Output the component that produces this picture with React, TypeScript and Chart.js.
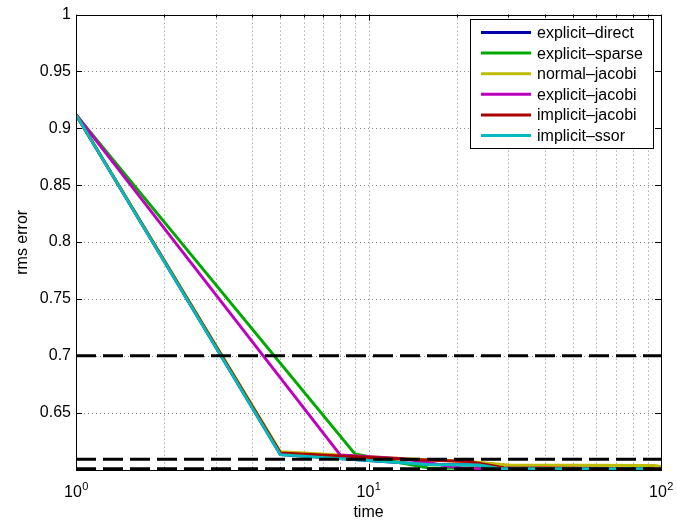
import React, { useEffect, useRef } from "react";
import { Chart, registerables } from "chart.js";

Chart.register(...registerables);

// ---- data ----
const seriesLabels = [
  "explicit–direct",
  "explicit–sparse",
  "normal–jacobi",
  "explicit–jacobi",
  "implicit–jacobi",
  "implicit–ssor",
];
const explicitDirect = [[1, 0.912], [5, 0.613], [16, 0.6043], [24, 0.604], [28, 0.6008], [88, 0.6005]];
const explicitSparse = [[1, 0.912], [9, 0.6135], [16, 0.6012], [45, 0.6005]];
const normalJacobi = [[1, 0.912], [5, 0.6155], [14, 0.6092], [22, 0.607], [30, 0.604], [95, 0.6035], [100, 0.6025]];
const explicitJacobi = [[1, 0.912], [8, 0.6128], [13, 0.6095], [16, 0.6058], [21, 0.6008], [46, 0.6005]];
const implicitJacobi = [[1, 0.912], [5, 0.6145], [14, 0.6088], [22, 0.607], [29, 0.6015], [95, 0.6005]];
const implicitSsor = [[1, 0.912], [5, 0.613], [16, 0.6043], [24, 0.604], [28, 0.6008], [88, 0.6005]];
const thresholds = [0.7, 0.609, 0.6005];
const yTickValues = [0.65, 0.7, 0.75, 0.8, 0.85, 0.9, 0.95, 1];
const xTickValues = [1, 10, 100];
const xMinorValues = [2, 3, 4, 5, 6, 7, 8, 9, 20, 30, 40, 50, 60, 70, 80, 90];

const seriesData = [explicitDirect, explicitSparse, normalJacobi, explicitJacobi, implicitJacobi, implicitSsor];
const seriesColors = ["#0000aa", "#00aa00", "#bcbc00", "#bf00bf", "#aa0000", "#00bcbc"];

const FONT = "'Liberation Sans', Arial, Helvetica, sans-serif";

const axesPlugin = {
  id: "matlabAxes",
  beforeDatasetsDraw(chart: any) {
    const { ctx, chartArea: a, scales } = chart;
    const xs = scales.x, ys = scales.y;
    ctx.save();
    ctx.strokeStyle = "#8a8a8a";
    ctx.lineWidth = 1;
    ctx.setLineDash([1, 3]);
    for (const v of [...xMinorValues, 10]) {
      const px = Math.round(xs.getPixelForValue(v)) + 0.5;
      ctx.beginPath();
      ctx.moveTo(px, a.top);
      ctx.lineTo(px, a.bottom);
      ctx.stroke();
    }
    for (const v of yTickValues) {
      if (v >= 1) continue;
      const py = Math.round(ys.getPixelForValue(v)) + 0.5;
      ctx.beginPath();
      ctx.moveTo(a.left, py);
      ctx.lineTo(a.right, py);
      ctx.stroke();
    }
    ctx.restore();
  },
  afterDatasetsDraw(chart: any) {
    const { ctx, chartArea: a, scales } = chart;
    const xs = scales.x, ys = scales.y;
    ctx.save();
    ctx.setLineDash([]);
    ctx.strokeStyle = "#000";
    ctx.lineWidth = 1;
    ctx.strokeRect(Math.round(a.left) + 0.5, Math.round(a.top) + 0.5, Math.round(a.right - a.left), Math.round(a.bottom - a.top));
    ctx.beginPath();
    for (const v of yTickValues) {
      const py = Math.round(ys.getPixelForValue(v)) + 0.5;
      ctx.moveTo(a.left, py);
      ctx.lineTo(a.left + 6, py);
      ctx.moveTo(a.right, py);
      ctx.lineTo(a.right - 6, py);
    }
    for (const v of xTickValues) {
      const px = Math.round(xs.getPixelForValue(v)) + 0.5;
      ctx.moveTo(px, a.bottom);
      ctx.lineTo(px, a.bottom - 6);
      ctx.moveTo(px, a.top);
      ctx.lineTo(px, a.top + 6);
    }
    for (const v of xMinorValues) {
      const px = Math.round(xs.getPixelForValue(v)) + 0.5;
      ctx.moveTo(px, a.bottom);
      ctx.lineTo(px, a.bottom - 3);
      ctx.moveTo(px, a.top);
      ctx.lineTo(px, a.top + 3);
    }
    ctx.stroke();

    // x tick labels with superscript exponents
    ctx.fillStyle = "#000";
    ctx.textBaseline = "alphabetic";
    ctx.textAlign = "left";
    for (const v of xTickValues) {
      const px = xs.getPixelForValue(v);
      const exp = String(Math.round(Math.log10(v)));
      ctx.font = `16px ${FONT}`;
      const wb = ctx.measureText("10").width;
      ctx.font = `11px ${FONT}`;
      const we = ctx.measureText(exp).width;
      const start = px - (wb + we) / 2;
      ctx.font = `16px ${FONT}`;
      ctx.fillText("10", start, a.bottom + 27);
      ctx.font = `11px ${FONT}`;
      ctx.fillText(exp, start + wb + 0.5, a.bottom + 20);
    }

    // legend
    const lx = 470, ly = 19, lw = 183, lh = 129;
    ctx.fillStyle = "#fff";
    ctx.fillRect(lx, ly, lw, lh);
    ctx.strokeStyle = "#000";
    ctx.lineWidth = 1;
    ctx.strokeRect(lx + 0.5, ly + 0.5, lw, lh);
    ctx.font = `16px ${FONT}`;
    ctx.textBaseline = "middle";
    seriesLabels.forEach((label, i) => {
      const cy = 32.5 + i * 20.6;
      ctx.strokeStyle = seriesColors[i];
      ctx.lineWidth = 3;
      ctx.beginPath();
      ctx.moveTo(481, cy);
      ctx.lineTo(531, cy);
      ctx.stroke();
      ctx.fillStyle = "#000";
      ctx.fillText(label, 537, cy + 1);
    });
    ctx.restore();
  },
};

export default function App() {
  const ref = useRef<HTMLCanvasElement | null>(null);
  useEffect(() => {
    if (!ref.current) return;
    const datasets: any[] = seriesData.map((d, i) => ({
      label: seriesLabels[i],
      data: d.map(([x, y]) => ({ x, y })),
      borderColor: seriesColors[i],
      backgroundColor: seriesColors[i],
      borderWidth: 3,
      pointRadius: 0,
      tension: 0,
      fill: false,
      order: 10 - i,
    }));
    thresholds.forEach((t) => {
      datasets.push({
        label: "threshold",
        data: [{ x: 1, y: t }, { x: 100, y: t }],
        borderColor: "#000",
        borderWidth: 3,
        borderDash: [20, 7],
        pointRadius: 0,
        fill: false,
        order: 1,
      });
    });
    const chart = new Chart(ref.current, {
      type: "line",
      data: { datasets },
      plugins: [axesPlugin],
      options: {
        animation: false,
        responsive: false,
        layout: { padding: { left: 0, right: 16, top: 12, bottom: 0 } },
        plugins: { legend: { display: false }, tooltip: { enabled: false } },
        scales: {
          x: {
            type: "logarithmic",
            min: 1,
            max: 100,
            grid: { display: false, drawTicks: false },
            border: { display: false },
            ticks: { display: false },
            title: { display: true, text: "time", color: "#000", font: { family: FONT, size: 16 }, padding: { top: 0, bottom: 3 } },
            afterFit: (s: any) => { s.height = 55; },
          },
          y: {
            type: "linear",
            min: 0.5995,
            max: 1,
            grid: { display: false, drawTicks: false },
            border: { display: false },
            afterBuildTicks: (s: any) => { s.ticks = yTickValues.map((v) => ({ value: v })); },
            ticks: {
              color: "#000",
              font: { family: FONT, size: 16 },
              padding: 5,
              callback: (v: any) => String(Number(Number(v).toFixed(2))),
            },
            title: { display: true, text: "rms error", color: "#000", font: { family: FONT, size: 16 }, padding: { top: 13, bottom: 0 } },
            afterFit: (s: any) => { s.width = 76; },
          },
        },
      } as any,
    });
    return () => chart.destroy();
  }, []);
  return (
    <canvas
      ref={ref}
      width={677}
      height={525}
      style={{ position: "absolute", left: 0, top: 0, background: "#fff" }}
    />
  );
}
